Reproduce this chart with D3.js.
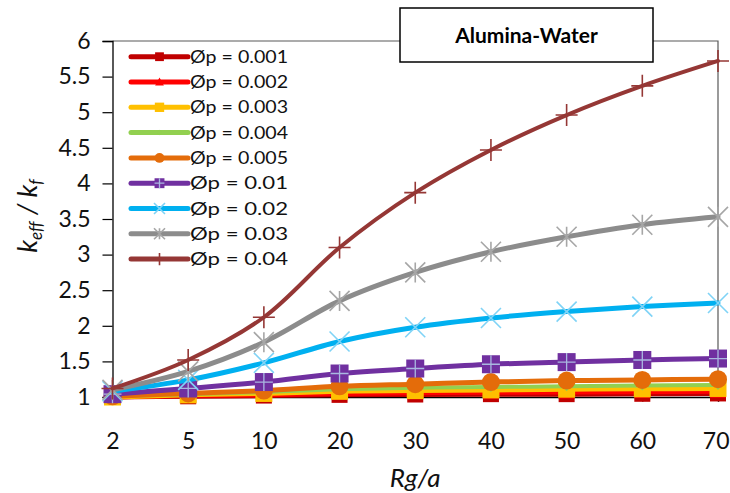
<!DOCTYPE html>
<html><head><meta charset="utf-8">
<script src="https://cdn.jsdelivr.net/npm/d3@7"></script>
<style>
html,body{margin:0;padding:0;background:#fff;}
svg{display:block;}
text{font-family:Lato, "Liberation Sans", sans-serif;}
</style>
</head><body>
<svg id="c" width="730" height="493"></svg>
<script>
const categories = ["2","5","10","20","30","40","50","60","70"];
const seriesNames = ["Øp = 0.001","Øp = 0.002","Øp = 0.003","Øp = 0.004","Øp = 0.005","Øp = 0.01","Øp = 0.02","Øp = 0.03","Øp = 0.04"];
const s0001 = [1.00, 1.01, 1.02, 1.03, 1.035, 1.04, 1.04, 1.045, 1.05];
const s0002 = [1.00, 1.02, 1.03, 1.05, 1.06, 1.065, 1.07, 1.075, 1.08];
const s0003 = [1.00, 1.03, 1.05, 1.08, 1.09, 1.10, 1.11, 1.115, 1.12];
const s0004 = [1.01, 1.04, 1.07, 1.11, 1.13, 1.14, 1.15, 1.16, 1.17];
const s0005 = [1.01, 1.05, 1.09, 1.15, 1.18, 1.21, 1.23, 1.24, 1.25];
const s001  = [1.04, 1.12, 1.21, 1.33, 1.40, 1.46, 1.49, 1.52, 1.54];
const s002  = [1.08, 1.24, 1.48, 1.78, 1.98, 2.11, 2.20, 2.27, 2.32];
const s003  = [1.10, 1.36, 1.77, 2.35, 2.75, 3.04, 3.25, 3.42, 3.53];
const s004  = [1.12, 1.52, 2.12, 3.10, 3.87, 4.47, 4.96, 5.37, 5.72];
const yTicks = [1,1.5,2,2.5,3,3.5,4,4.5,5,5.5,6];
const yTickLabels = ["1","1.5","2","2.5","3","3.5","4","4.5","5","5.5","6"];
const title = "Alumina-Water";

const allSeries = [s0001,s0002,s0003,s0004,s0005,s001,s002,s003,s004];
const styles = [
  {line:"#C00000", w:5, marker:"square", fill:"#C00000", stroke:"none", size:16},
  {line:"#FF0000", w:5, marker:"triangle", fill:"#FF0000", stroke:"none", size:16},
  {line:"#FFC000", w:5, marker:"square", fill:"#FFC000", stroke:"none", size:17},
  {line:"#92D050", w:4, marker:"diamond", fill:"#92D050", stroke:"none", size:10},
  {line:"#E46C0A", w:5, marker:"circle", fill:"#E46C0A", stroke:"none", size:18},
  {line:"#7030A0", w:5, marker:"squareplus", fill:"#7030A0", stroke:"#A9B8E0", size:18},
  {line:"#00B0F0", w:5, marker:"x", fill:"none", stroke:"#7FD3F6", size:20},
  {line:"#8C8C8C", w:5, marker:"star", fill:"none", stroke:"#A6A6A6", size:20},
  {line:"#953735", w:4, marker:"plus", fill:"none", stroke:"#953735", size:22}
];

const svg = d3.select("#c");
const L = 112.5, R = 718, T = 41, B = 397;
const x = d3.scalePoint().domain(categories).range([L, R]).padding(0);
const y = d3.scaleLinear().domain([1, 6]).range([B, T]);

// frame top/right
svg.append("path").attr("d", `M${L},${T}H${R}V${B}`).attr("fill","none").attr("stroke","#595959").attr("stroke-width",1.2);

// y axis
const yAxis = d3.axisLeft(y).tickValues(yTicks).tickSize(10).tickPadding(12)
  .tickFormat((d,i)=>yTickLabels[i]);
const gy = svg.append("g").attr("transform",`translate(${L},0)`).call(yAxis);
gy.select(".domain").attr("stroke","#000").attr("stroke-width",1.3);
gy.selectAll(".tick line").attr("stroke","#000").attr("stroke-width",1.2);
gy.selectAll(".tick text").attr("font-size",23).attr("fill","#111").attr("font-family","Lato, sans-serif");

// x axis
const xAxis = d3.axisBottom(x).tickSize(5).tickPadding(31);
const gx = svg.append("g").attr("transform",`translate(0,${B})`).call(xAxis);
gx.select(".domain").attr("stroke","#000").attr("stroke-width",1.3);
gx.selectAll(".tick line").attr("stroke","#333");
gx.selectAll(".tick text").attr("font-size",23).attr("fill","#111").attr("font-family","Lato, sans-serif");
// keep last label inside the page
gx.selectAll(".tick text").filter(d => d === categories[categories.length-1])
  .attr("text-anchor","end").attr("x", 11);

function markerPath(g, type, st, cx, cy, s) {
  const h = s/2;
  if (type === "square") {
    g.append("rect").attr("x",cx-h).attr("y",cy-h).attr("width",s).attr("height",s).attr("fill",st.fill);
  } else if (type === "squareplus") {
    g.append("rect").attr("x",cx-h).attr("y",cy-h).attr("width",s).attr("height",s).attr("fill",st.fill);
    g.append("path").attr("d",`M${cx-h},${cy}H${cx+h}M${cx},${cy-h}V${cy+h}`).attr("stroke",st.stroke).attr("stroke-width",1.3);
  } else if (type === "triangle") {
    g.append("path").attr("d",`M${cx},${cy-h}L${cx+h},${cy+h*0.8}L${cx-h},${cy+h*0.8}Z`).attr("fill",st.fill);
  } else if (type === "diamond") {
    g.append("path").attr("d",`M${cx},${cy-h}L${cx+h},${cy}L${cx},${cy+h}L${cx-h},${cy}Z`).attr("fill",st.fill);
  } else if (type === "circle") {
    g.append("circle").attr("cx",cx).attr("cy",cy).attr("r",h).attr("fill",st.fill);
  } else if (type === "x") {
    g.append("path").attr("d",`M${cx-h},${cy-h}L${cx+h},${cy+h}M${cx-h},${cy+h}L${cx+h},${cy-h}`).attr("stroke",st.stroke).attr("stroke-width",1.6).attr("fill","none");
  } else if (type === "star") {
    g.append("path").attr("d",`M${cx-h},${cy-h}L${cx+h},${cy+h}M${cx-h},${cy+h}L${cx+h},${cy-h}M${cx},${cy-h}V${cy+h}`).attr("stroke",st.stroke).attr("stroke-width",1.6).attr("fill","none");
  } else if (type === "plus") {
    g.append("path").attr("d",`M${cx-h},${cy}H${cx+h}M${cx},${cy-h}V${cy+h}`).attr("stroke",st.stroke).attr("stroke-width",1.6).attr("fill","none");
  }
}

const line = d3.line().x((d,i)=>x(categories[i])).y(d=>y(d)).curve(d3.curveCatmullRom.alpha(0.5));

allSeries.forEach((vals, k) => {
  const st = styles[k];
  const g = svg.append("g");
  g.append("path").datum(vals).attr("d", line).attr("fill","none")
    .attr("stroke", st.line).attr("stroke-width", st.w).attr("stroke-linejoin","round").attr("stroke-linecap","round");
  vals.forEach((v,i) => markerPath(g, st.marker, st, x(categories[i]), y(v), st.size));
});

// legend
const lg = svg.append("g");
seriesNames.forEach((name, k) => {
  const st = styles[k];
  const cy = 56.7 + k*25.3;
  lg.append("line").attr("x1",131).attr("x2",188).attr("y1",cy).attr("y2",cy)
    .attr("stroke",st.line).attr("stroke-width",5).attr("stroke-linecap","round");
  markerPath(lg, st.marker, st, 159.5, cy, st.size*0.55);
  lg.append("text").attr("x",190).attr("y",cy+6).attr("font-size",17)
    .attr("textLength",98).attr("lengthAdjust","spacingAndGlyphs")
    .attr("fill","#111").text(name);
});

// title box
svg.append("rect").attr("x",400).attr("y",8).attr("width",253).attr("height",54)
  .attr("fill","#fff").attr("stroke","#000").attr("stroke-width",1.5);
svg.append("text").attr("x",526.5).attr("y",43).attr("text-anchor","middle")
  .attr("font-size",21).attr("font-weight","bold").attr("fill","#000").text(title);

// axis titles
svg.append("text").attr("x",(L+R)/2).attr("y",487).attr("text-anchor","middle")
  .attr("font-size",26).attr("font-style","italic").attr("fill","#111").text("Rg/a");

const yt = svg.append("text").attr("transform","translate(37,216) rotate(-90)").attr("text-anchor","middle")
  .attr("font-size",27).attr("font-style","italic").attr("fill","#111");
yt.append("tspan").text("k");
yt.append("tspan").attr("font-size",17).attr("dy",5).text("eff");
yt.append("tspan").attr("dy",-5).text(" / k");
yt.append("tspan").attr("font-size",17).attr("dy",5).text("f");
</script>
</body></html>
